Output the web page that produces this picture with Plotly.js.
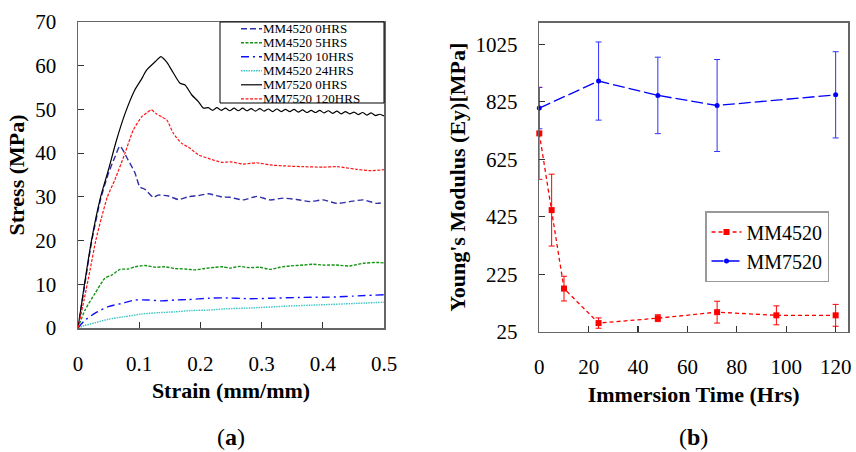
<!DOCTYPE html>
<html>
<head>
<meta charset="utf-8">
<script src="https://cdn.plot.ly/plotly-3.0.1.min.js"></script>
<style>html,body{margin:0;padding:0;background:#fff;}#chart{width:856px;height:452px;}</style>
</head>
<body>
<div id="chart"></div>
<script>
// ---------- Panel (a): stress-strain curves ----------
const seriesNamesA = ['MM4520 0HRS', 'MM4520 5HRS', 'MM4520 10HRS', 'MM4520 24HRS', 'MM7520 0HRS', 'MM7520 120HRS'];

const strain4520_0 = [0, 0.01, 0.022, 0.037, 0.05, 0.06, 0.0686, 0.082, 0.093, 0.101, 0.1095, 0.123, 0.131, 0.1476, 0.164, 0.18, 0.197, 0.213, 0.235, 0.248, 0.27, 0.292, 0.314, 0.335, 0.357, 0.379, 0.4, 0.423, 0.444, 0.466, 0.488, 0.5];
const stress4520_0 = [0, 9, 19.5, 29.5, 35.5, 39, 41.6, 38.4, 35.5, 32.3, 31.7, 29.9, 30.4, 30.2, 29.4, 30.0, 30.3, 30.7, 30.0, 29.9, 29.3, 30.1, 29.3, 29.7, 29.4, 28.9, 29.3, 28.5, 28.9, 29.3, 28.5, 28.7];

const strain4520_5 = [0, 0.0114, 0.0278, 0.044, 0.055, 0.0686, 0.082, 0.093, 0.1095, 0.126, 0.142, 0.158, 0.175, 0.191, 0.207, 0.224, 0.237, 0.248, 0.264, 0.28, 0.297, 0.314, 0.33, 0.346, 0.368, 0.384, 0.4, 0.422, 0.444, 0.466, 0.488, 0.5];
const stress4520_5 = [0, 4.1, 7.9, 11.4, 12.1, 13.4, 13.5, 14.0, 14.3, 13.9, 14.0, 13.6, 13.5, 13.3, 13.6, 13.9, 14.0, 13.7, 14.1, 13.8, 13.9, 13.4, 13.9, 14.2, 14.4, 14.6, 14.4, 14.4, 14.2, 14.8, 15.0, 14.9];

const strain4520_10 = [0, 0.0114, 0.028, 0.0495, 0.071, 0.093, 0.115, 0.137, 0.158, 0.18, 0.213, 0.237, 0.28, 0.314, 0.368, 0.422, 0.45, 0.5];
const stress4520_10 = [0, 1.8, 3.4, 4.9, 5.6, 6.4, 6.4, 6.2, 6.4, 6.5, 6.8, 6.9, 6.7, 6.8, 7.0, 7.1, 7.3, 7.6];

const strain4520_24 = [0, 0.0114, 0.028, 0.0495, 0.077, 0.104, 0.131, 0.158, 0.186, 0.213, 0.237, 0.286, 0.341, 0.395, 0.45, 0.5];
const stress4520_24 = [0, 0.6, 1.2, 2.0, 2.6, 3.2, 3.5, 3.7, 4.0, 4.1, 4.35, 4.6, 5.0, 5.3, 5.6, 5.9];

const strain7520_0 = [0, 0.01, 0.022, 0.037, 0.0496, 0.063, 0.077, 0.093, 0.104, 0.112, 0.126, 0.1356, 0.145, 0.153, 0.1667, 0.175, 0.186, 0.1966, 0.205,
  0.213, 0.220, 0.227, 0.234, 0.241, 0.248, 0.255, 0.262, 0.269, 0.276, 0.283, 0.290, 0.297, 0.304, 0.311, 0.318, 0.325, 0.332, 0.339, 0.346,
  0.353, 0.360, 0.367, 0.374, 0.381, 0.388, 0.395, 0.402, 0.409, 0.416, 0.423, 0.430, 0.437, 0.444, 0.451, 0.458, 0.465, 0.472, 0.479, 0.486, 0.493, 0.500];
const stress7520_0 = [0, 9.5, 20, 30, 36.1, 43.0, 49.1, 54.5, 57, 59, 60.9, 62.1, 60.8, 59.0, 56.0, 55.6, 53.3, 51.8, 50.3,
  50.4, 49.8, 50.4, 49.8, 50.3, 49.7, 50.3, 49.7, 50.3, 49.7, 50.2, 49.6, 50.2, 49.6, 50.1, 49.5, 50.1, 49.5, 50.0, 49.5,
  50.0, 49.4, 49.9, 49.3, 49.8, 49.3, 49.8, 49.2, 49.7, 49.1, 49.6, 49.0, 49.5, 49.0, 49.4, 48.8, 49.3, 48.7, 49.2, 48.6, 48.9, 48.5];

const strain7520_120 = [0, 0.01, 0.02, 0.029, 0.038, 0.048, 0.0605, 0.0768, 0.0904, 0.104, 0.112, 0.120, 0.128, 0.137, 0.145, 0.156, 0.169, 0.183, 0.197, 0.213, 0.235, 0.25, 0.27, 0.292, 0.314, 0.335, 0.368, 0.4, 0.423, 0.455, 0.477, 0.5];
const stress7520_120 = [0, 6.5, 13.5, 20, 25, 30, 34, 40, 45.3, 48.3, 49.2, 49.9, 49.0, 48.3, 47.6, 44.5, 42.3, 41.1, 39.6, 38.8, 37.9, 38.0, 37.5, 37.8, 37.3, 37.1, 36.9, 36.8, 36.9, 36.3, 36.0, 36.2];

const xTicksA = [0, 0.1, 0.2, 0.3, 0.4, 0.5];
const yTicksA = [0, 10, 20, 30, 40, 50, 60, 70];

// ---------- Panel (b): Young's modulus vs immersion time ----------
const time4520 = [0, 5, 10, 24, 48, 72, 96, 120];
const modulus4520 = [715, 448, 175, 55, 72, 93, 82, 82];
const err4520 = [160, 125, 43, 18, 12, 38, 33, 38];

const time7520 = [0, 24, 48, 72, 120];
const modulus7520 = [803, 897, 847, 812, 849];
const err7520 = [72, 136, 133, 160, 150];

const xTicksB = [0, 20, 40, 60, 80, 100, 120];
const yTicksB = [25, 225, 425, 625, 825, 1025];

// ---------- styles ----------
const W = 856, H = 452;
const px = x => x / W;
const py = y => 1 - y / H;
const SERIF = 'Liberation Serif';

const stylesA = [
  {color: '#2e2ea8', dash: '6px,3px', width: 1.4},
  {color: '#139413', dash: '3px,1.5px', width: 1.4},
  {color: '#1010ff', dash: '8px,4px,2px,4px', width: 1.4},
  {color: '#3cc4c4', dash: '1.5px,1px', width: 1.4},
  {color: '#000000', dash: 'solid', width: 1.2},
  {color: '#ff1010', dash: '3px,1.5px', width: 1.2}
];
const xsA = [strain4520_0, strain4520_5, strain4520_10, strain4520_24, strain7520_0, strain7520_120];
const ysA = [stress4520_0, stress4520_5, stress4520_10, stress4520_24, stress7520_0, stress7520_120];

const traces = [];
for (let i = 0; i < seriesNamesA.length; i++) {
  traces.push({
    type: 'scatter', mode: 'lines', name: seriesNamesA[i],
    x: xsA[i], y: ysA[i], xaxis: 'x', yaxis: 'y',
    line: {color: stylesA[i].color, dash: stylesA[i].dash, width: stylesA[i].width, shape: 'spline', smoothing: 0.6},
    showlegend: false, hoverinfo: 'skip'
  });
}

traces.push({
  type: 'scatter', mode: 'lines+markers', name: 'MM4520',
  x: time4520, y: modulus4520, xaxis: 'x2', yaxis: 'y2',
  line: {color: '#ff0000', dash: '4px,3px', width: 1.3},
  marker: {symbol: 'square', size: 6, color: '#ff0000'},
  error_y: {type: 'data', array: err4520, visible: true, color: '#ff0000', thickness: 1, width: 3},
  cliponaxis: false
});
traces.push({
  type: 'scatter', mode: 'lines+markers', name: 'MM7520',
  x: time7520, y: modulus7520, xaxis: 'x2', yaxis: 'y2',
  line: {color: '#0000ff', dash: '12px,4px', width: 1.3},
  marker: {symbol: 'circle', size: 5, color: '#0000ff'},
  error_y: {type: 'data', array: err7520, visible: true, color: '#3030ff', thickness: 1, width: 3},
  cliponaxis: false
});

// ---------- manual legend for panel (a) ----------
const shapes = [];
const annotations = [];
shapes.push({type: 'rect', xref: 'paper', yref: 'paper', x0: px(220), x1: px(384), y0: py(103), y1: py(22),
  line: {color: '#000', width: 1}, fillcolor: '#fff', layer: 'above'});
for (let i = 0; i < seriesNamesA.length; i++) {
  const yc = 28.8 + i * 14.0;
  shapes.push({type: 'line', xref: 'paper', yref: 'paper', x0: px(241), x1: px(262), y0: py(yc), y1: py(yc),
    line: {color: stylesA[i].color, dash: stylesA[i].dash, width: stylesA[i].width}, layer: 'above'});
  annotations.push({xref: 'paper', yref: 'paper', x: px(262), y: py(yc), xanchor: 'left', yanchor: 'middle',
    text: seriesNamesA[i], showarrow: false, borderpad: 0,
    font: {family: SERIF, size: 13, color: '#000'}});
}

annotations.push({xref: 'paper', yref: 'paper', x: px(231), y: py(437), xanchor: 'center', yanchor: 'middle',
  text: '(<b>a</b>)', showarrow: false, font: {family: SERIF, size: 24, color: '#000'}});
annotations.push({xref: 'paper', yref: 'paper', x: px(693), y: py(437), xanchor: 'center', yanchor: 'middle',
  text: '(<b>b</b>)', showarrow: false, font: {family: SERIF, size: 24, color: '#000'}});

const axisCommon = {
  ticks: 'inside', ticklen: 6, tickwidth: 1.2, tickcolor: '#333',
  showline: true, linecolor: '#666', linewidth: 1.5, mirror: true,
  showgrid: false, zeroline: false,
  tickfont: {family: SERIF, size: 21, color: '#000'},
  ticklabelstandoff: 16
};

const layout = {
  width: W, height: H,
  margin: {l: 0, r: 0, t: 0, b: 0},
  paper_bgcolor: '#fff', plot_bgcolor: '#fff',
  font: {family: SERIF, color: '#000'},
  xaxis: Object.assign({}, axisCommon, {
    domain: [px(78), px(384)], range: [0, 0.5], tickvals: xTicksA, ticktext: xTicksA.map(String), anchor: 'y',
    title: {text: '<b>Strain (mm/mm)</b>', font: {family: SERIF, size: 22, color: '#000'}, standoff: 8}
  }),
  yaxis: Object.assign({}, axisCommon, {
    domain: [py(328), py(22)], range: [0, 70], tickvals: yTicksA, ticktext: yTicksA.map(String), anchor: 'x',
    title: {text: '<b>Stress (MPa)</b>', font: {family: SERIF, size: 22, color: '#000'}, standoff: 4}
  }),
  xaxis2: Object.assign({}, axisCommon, {
    domain: [px(539.3), px(848)], range: [0, 125], tickvals: xTicksB, ticktext: xTicksB.map(String), anchor: 'y2',
    title: {text: '<b>Immersion Time (Hrs)</b>', font: {family: SERIF, size: 22, color: '#000'}, standoff: 8}
  }),
  yaxis2: Object.assign({}, axisCommon, {
    domain: [py(331.7), py(22.7)], range: [25, 1100], tickvals: yTicksB, ticktext: yTicksB.map(String), anchor: 'x2',
    title: {text: "<b>Young's Modulus (Ey)[MPa]</b>", font: {family: SERIF, size: 22, color: '#000'}, standoff: 4}
  }),
  showlegend: true,
  legend: {
    x: px(705), y: py(211), xanchor: 'left', yanchor: 'top', xref: 'paper', yref: 'paper',
    bgcolor: '#fff', bordercolor: '#999', borderwidth: 1.5,
    font: {family: SERIF, size: 20, color: '#000'}, itemwidth: 30, tracegroupgap: 0
  },
  shapes: shapes,
  annotations: annotations
};

Plotly.newPlot('chart', traces, layout, {displayModeBar: false, staticPlot: true});
</script>
</body>
</html>
